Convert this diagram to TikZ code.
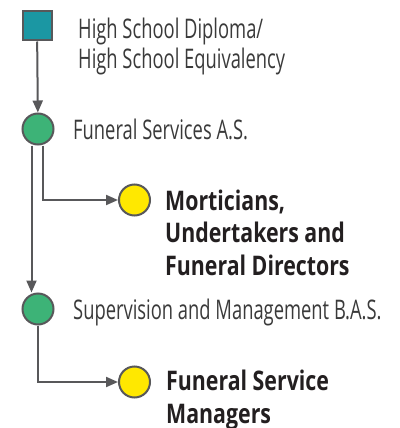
\documentclass[tikz,border=0pt]{standalone}
\usepackage{fontspec}
\setmainfont{Open Sans}[FakeStretch=0.68]
\newfontfamily\jobfont{Open Sans}[FakeStretch=0.79]
\usepackage{xcolor}
\usetikzlibrary{arrows.meta}
\definecolor{linegrey}{HTML}{58585A}
\definecolor{hsteal}{HTML}{1B97A3}
\definecolor{progreen}{HTML}{3DB377}
\definecolor{jobyellow}{HTML}{FFE800}
\definecolor{textgrey}{HTML}{3A3A3A}
\definecolor{textdark}{HTML}{231F20}

\begin{document}
\begin{tikzpicture}[x=1pt, y=-1pt,
  hsbox/.style = {draw=linegrey, line width=2pt, fill=hsteal, minimum size=29pt, inner sep=0pt},
  progdot/.style = {circle, draw=linegrey, line width=2pt, fill=progreen, minimum size=31pt, inner sep=0pt},
  jobdot/.style = {circle, draw=linegrey, line width=2pt, fill=jobyellow, minimum size=31pt, inner sep=0pt},
  link/.style = {draw=linegrey, line width=2pt, -{Triangle[length=12pt, width=10pt]}},
  plain/.style = {anchor=base west, inner sep=0pt, align=left, text=textgrey, font=\fontsize{27}{29}\selectfont},
  job/.style = {anchor=base west, inner sep=0pt, align=left, text=textdark, font=\jobfont\fontsize{27}{32.5}\selectfont\bfseries}]
  \useasboundingbox (0,0) rectangle (399,428);
  %%% markers %%%
  \node[hsbox] (hs) at (37,26) {};
  \node[progdot] (as) at (38,129) {};
  \node[jobdot] (mort) at (134.5,200) {};
  \node[progdot] (bas) at (38,309) {};
  \node[jobdot] (mgr) at (134.5,382) {};

  %%% texts (placed at the baseline of the last line) %%%
  \node[plain] (hstext) at (78,68) {High School Diploma/\\High School Equivalency};
  \node[plain] (astext) at (73,139) {Funeral Services A.S.};
  \node[job] (morttext) at (165,275) {Morticians,\\Undertakers and\\Funeral Directors};
  \node[plain] (bastext) at (73,319) {Supervision and Management B.A.S.};
  \node[job] (mgrtext) at (166,423) {Funeral Service\\Managers};

  %%% connectors %%%
  \draw[link] (hs) -- (as);
  \draw[link] ([xshift=4.5pt]as.south) |- (mort);
  \draw[link] ([xshift=-6.5pt]as.south) -- ([xshift=-6.5pt]bas.north);
  \draw[link] (bas) |- (mgr);
\end{tikzpicture}
\end{document}
